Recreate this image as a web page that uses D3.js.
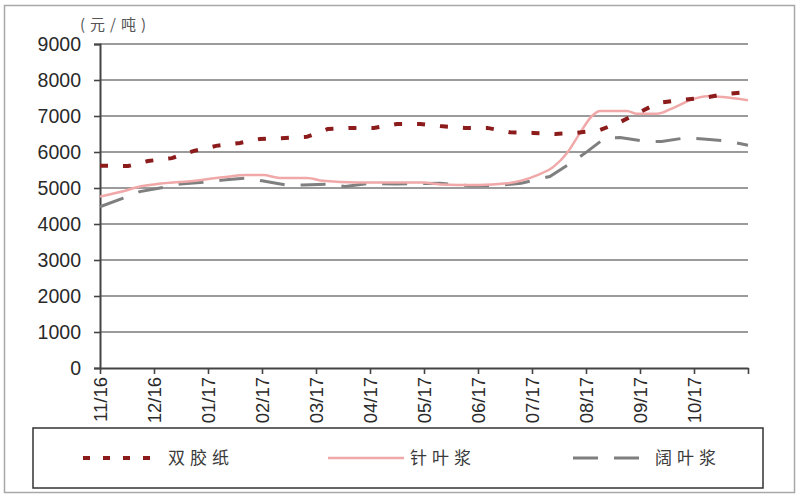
<!DOCTYPE html>
<html><head><meta charset="utf-8">
<script src="https://cdn.jsdelivr.net/npm/d3@7"></script>
<style>body{margin:0;background:#fff}svg{display:block}</style>
</head><body>
<svg id="c" width="800" height="500"></svg>
<script>
// month offsets since 2016-11 and values (元/吨)
const monthLabels = ["11/16","12/16","01/17","02/17","03/17","04/17","05/17","06/17","07/17","08/17","09/17","10/17"];
const yTicks = [0,1000,2000,3000,4000,5000,6000,7000,8000,9000];
const seriesNames = ["双胶纸","针叶浆","阔叶浆"];

const paperX = [0,0.52,0.89,1.33,1.74,2.15,2.59,2.96,3.43,3.83,4.22,4.69,5.07,5.5,5.93,6.3,6.76,7.17,7.59,8.02,8.43,8.8,9.26,9.63,10,10.33,10.74,11.17,11.57,12];
const paperY = [5620,5610,5750,5830,6030,6170,6250,6360,6390,6420,6640,6670,6670,6780,6780,6720,6670,6670,6550,6530,6500,6530,6610,6830,7110,7360,7440,7500,7610,7670];

const softX = [0,0.43,0.74,1.06,1.67,2.28,2.72,3.02,3.33,3.83,4.13,4.76,5.98,6.3,7.0,7.54,8.1,8.39,8.65,8.89,9.11,9.26,9.76,9.94,10.31,10.61,10.98,11.24,11.54,12];
const softY = [4760,4910,5040,5110,5190,5300,5360,5360,5280,5280,5200,5150,5150,5100,5080,5130,5360,5580,5970,6530,7000,7140,7140,7060,7060,7220,7470,7550,7530,7440];

const hardX = [0,0.43,0.74,1.11,1.48,1.94,2.28,2.72,3.0,3.46,3.76,4.22,4.54,5.0,5.5,6.3,6.85,7.3,7.8,8.33,8.76,9.02,9.35,9.63,10.13,10.4,10.87,11.17,11.63,12];
const hardY = [4480,4720,4900,5000,5110,5160,5220,5280,5200,5080,5080,5110,5040,5130,5110,5130,5065,5065,5130,5320,5730,6010,6390,6400,6290,6290,6400,6360,6300,6190];

const svg = d3.select("#c");
const L = 100, R = 748, T = 44, B = 368;
const x = d3.scaleLinear().domain([0,12]).range([L,R]);
const y = d3.scaleLinear().domain([0,9000]).range([B,T]);

// outer frame
svg.append("rect").attr("x",4.5).attr("y",5.5).attr("width",790).attr("height",487)
  .attr("fill","none").attr("stroke","#a8a8a8").attr("stroke-width",1.5);

// gridlines
svg.append("g").selectAll("line").data(yTicks.filter(d=>d>0)).join("line")
  .attr("x1",L).attr("x2",R).attr("y1",d=>y(d)).attr("y2",d=>y(d))
  .attr("stroke","#7a7a7a").attr("stroke-width",1.6);

// y axis
const yAxis = svg.append("g").attr("transform",`translate(${L},0)`)
  .call(d3.axisLeft(y).tickValues(yTicks).tickSize(6).tickPadding(13).tickFormat(d3.format("d")));
yAxis.select(".domain").attr("stroke","#444").attr("stroke-width",2);
yAxis.selectAll(".tick line").attr("stroke","#444").attr("stroke-width",1.6);
yAxis.selectAll("text").attr("font-family","Liberation Sans, Arial, sans-serif").attr("font-size",19.5).attr("fill","#2a2a2a");

// x axis
const xAxis = svg.append("g").attr("transform",`translate(0,${B})`)
  .call(d3.axisBottom(x).tickValues(d3.range(0,13)).tickSize(6).tickSizeOuter(0).tickFormat(i=>monthLabels[i]||""));
xAxis.select(".domain").attr("stroke","#444").attr("stroke-width",2);
xAxis.selectAll(".tick line").attr("stroke","#444").attr("stroke-width",1.6);
xAxis.selectAll("text").attr("font-family","Liberation Sans, Arial, sans-serif").attr("font-size",18.5).attr("fill","#2a2a2a")
  .attr("transform","rotate(-90)").attr("text-anchor","end").attr("x",-9).attr("y",0).attr("dy","0.35em");

// unit
svg.append("text").attr("x",80).attr("y",30).text("(元/吨)")
  .attr("font-family","Noto Sans CJK SC, sans-serif").attr("font-size",15).attr("fill","#555").attr("letter-spacing",5);

// lines
const mk = (xs,ys)=>xs.map((v,i)=>[v,ys[i]]);
const lineLin = d3.line().x(d=>x(d[0])).y(d=>y(d[1]));
const lineSmooth = d3.line().x(d=>x(d[0])).y(d=>y(d[1])).curve(d3.curveMonotoneX);

svg.append("path").datum(mk(hardX,hardY)).attr("d",lineLin).attr("fill","none")
  .attr("stroke","#7f7f7f").attr("stroke-width",3).attr("stroke-dasharray","25,16");
svg.append("path").datum(mk(softX,softY)).attr("d",lineSmooth).attr("fill","none")
  .attr("stroke","#f0a8a8").attr("stroke-width",2.5);
svg.append("path").datum(mk(paperX,paperY)).attr("d",lineLin).attr("fill","none")
  .attr("stroke","#8c1c1c").attr("stroke-width",4).attr("stroke-dasharray","8,15");

// legend
svg.append("rect").attr("x",33).attr("y",428).attr("width",730).attr("height",60)
  .attr("fill","#fff").attr("stroke","#333").attr("stroke-width",1.5);
const legendStyles = [
  {stroke:"#8c1c1c", w:4, dash:"7,13"},
  {stroke:"#f0a8a8", w:2.5, dash:null},
  {stroke:"#7f7f7f", w:3, dash:"25,16"}
];
const lg = svg.append("g").selectAll("g").data(seriesNames).join("g")
  .attr("transform",(d,i)=>`translate(${83+i*245},458)`);
lg.append("line").attr("x1",0).attr("x2",(d,i)=>i===2?70:76).attr("y1",0).attr("y2",0)
  .attr("stroke",(d,i)=>legendStyles[i].stroke).attr("stroke-width",(d,i)=>legendStyles[i].w)
  .attr("stroke-dasharray",(d,i)=>legendStyles[i].dash);
lg.append("text").attr("x",(d,i)=>i===0?85:82).attr("y",0).attr("dy","0.36em").text(d=>d)
  .attr("font-family","Noto Sans CJK SC, sans-serif").attr("font-size",17).attr("fill","#3a3a3a").attr("letter-spacing",5);
</script>
</body></html>
